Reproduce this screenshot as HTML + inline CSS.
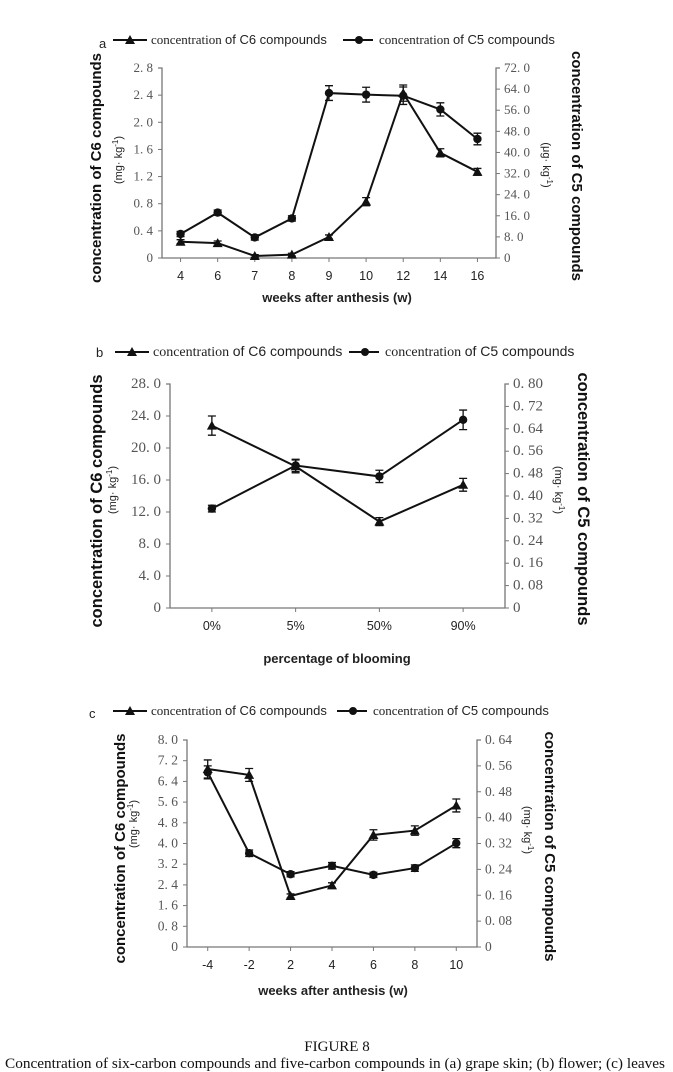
<!DOCTYPE html>
<html><head><meta charset="utf-8">
<style>
body{margin:0;background:#fff;width:673px;height:1072px;overflow:hidden}
svg{display:block}
.tk{font-family:"Liberation Serif",serif;font-size:13px;fill:#555}
.xl{font-family:"Liberation Sans",sans-serif;font-size:12.5px;fill:#222}
.tt{font-family:"Liberation Sans",sans-serif;font-size:15px;font-weight:bold;fill:#111}
.xt{font-family:"Liberation Sans",sans-serif;font-size:13px;font-weight:bold;fill:#222}
.un{font-family:"Liberation Sans",sans-serif;font-size:11px;fill:#222}
.lg{font-family:"Liberation Serif",serif;font-size:13px;fill:#222}
.lgs{font-family:"Liberation Sans",sans-serif;fill:#222}
.cap{font-family:"Liberation Serif",serif;font-size:15px;fill:#111}
</style></head><body>
<svg id="fig" width="673" height="1072" xmlns="http://www.w3.org/2000/svg">
<text class="cap" x="337" y="1051" text-anchor="middle">FIGURE 8</text>
<text class="cap" x="5" y="1068" textLength="660" lengthAdjust="spacingAndGlyphs">Concentration of six-carbon compounds and five-carbon compounds in (a) grape skin; (b) flower; (c) leaves</text>
</svg>
<script>
// Panel a data
const catsA=["4","6","7","8","9","10","12","14","16"];
const c6A=[0.24,0.22,0.03,0.05,0.31,0.83,2.43,1.55,1.27];
const c5A=[9.1,17.2,7.8,15.0,62.5,61.9,61.5,56.3,45.1];
const c6ErrA=[0.03,0.03,0.02,0.02,0.03,0.06,0.12,0.06,0.05];
const c5ErrA=[1.0,1.0,1.0,1.0,2.8,2.8,3.3,2.5,2.2];
const leftTicksA=["0","0.4","0.8","1.2","1.6","2.0","2.4","2.8"];
const rightTicksA=["0","8.0","16.0","24.0","32.0","40.0","48.0","56.0","64.0","72.0"];
// Panel b data
const catsB=["0%","5%","50%","90%"];
const c6B=[22.8,17.7,10.8,15.4];
const c5B=[0.355,0.509,0.470,0.672];
const c6ErrB=[1.2,0.8,0.5,0.8];
const c5ErrB=[0.012,0.022,0.022,0.035];
const leftTicksB=["0","4.0","8.0","12.0","16.0","20.0","24.0","28.0"];
const rightTicksB=["0","0.08","0.16","0.24","0.32","0.40","0.48","0.56","0.64","0.72","0.80"];
// Panel c data
const catsC=["-4","-2","2","4","6","8","10"];
const c6C=[6.88,6.65,1.97,2.38,4.33,4.50,5.47];
const c5C=[0.54,0.29,0.225,0.251,0.223,0.244,0.321];
const c6ErrC=[0.35,0.25,0.08,0.1,0.2,0.18,0.25];
const c5ErrC=[0.02,0.01,0.008,0.01,0.008,0.01,0.014];
const leftTicksC=["0","0.8","1.6","2.4","3.2","4.0","4.8","5.6","6.4","7.2","8.0"];
const rightTicksC=["0","0.08","0.16","0.24","0.32","0.40","0.48","0.56","0.64"];

const NS="http://www.w3.org/2000/svg";
const svg=document.getElementById('fig');
function mk(t,a,p){const e=document.createElementNS(NS,t);for(const k in a)e.setAttribute(k,a[k]);(p||svg).appendChild(e);return e;}
function fmt(s){return s.replace('.', '. ');}

function panel(o){
  const g=mk('g',{});
  
  
  const lMax=parseFloat(o.lt[o.lt.length-1]), rMax=parseFloat(o.rt[o.rt.length-1]);
  const yL=v=>o.y0-(v/lMax)*(o.y0-o.y1);
  const yR=v=>o.y0-(v/rMax)*(o.y0-o.y1);
  const w=(o.x1-o.x0)/o.cats.length;
  const xC=i=>o.x0+(i+0.5)*w;
  const ax=mk('path',{d:`M${o.x0-4} ${o.y1}H${o.x0}V${o.y0}H${o.x1}V${o.y1}H${o.x1+4}`,fill:'none',stroke:'#777','stroke-width':1.3},g);
  
  
  o.lt.forEach((t,i)=>{const v=parseFloat(t);const y=yL(v);
    mk('line',{x1:o.x0-4,x2:o.x0,y1:y,y2:y,stroke:'#777'},g);
    const e=mk('text',{class:'tk',x:o.x0-9,y:y+4,'text-anchor':'end',style:`font-size:${o.tkfs}px`},g);e.textContent=fmt(t);
    
    });
  o.rt.forEach((t,i)=>{const v=parseFloat(t);const y=yR(v);
    mk('line',{x1:o.x1,x2:o.x1+4,y1:y,y2:y,stroke:'#777'},g);
    const e=mk('text',{class:'tk',x:o.x1+8,y:y+4,style:`font-size:${o.tkfs}px`},g);e.textContent=fmt(t);
    
    });
  o.cats.forEach((c,i)=>{const x=xC(i);
    mk('line',{x1:x,x2:x,y1:o.y0,y2:o.y0+4,stroke:'#777'},g);
    const e=mk('text',{class:'xl',x:x,y:o.y0+22,'text-anchor':'middle'},g);e.textContent=c;
    
    });
  function series(vals,errs,sc,shape,name){
    const pts=vals.map((v,i)=>[xC(i),sc(v)]);
    const l=mk('polyline',{points:pts.map(p=>p.join(',')).join(' '),fill:'none',stroke:'#111','stroke-width':2},g);
    
    
    vals.forEach((v,i)=>{const x=xC(i),y=sc(v),ya=sc(v+errs[i]),yb=sc(v-errs[i]);
      mk('path',{d:`M${x} ${ya}V${yb}M${x-4} ${ya}H${x+4}M${x-4} ${yb}H${x+4}`,stroke:'#111','stroke-width':1.3,fill:'none'},g);
      let m;
      if(shape==='tri') m=mk('polygon',{points:`${x},${y-5} ${x-5},${y+4} ${x+5},${y+4}`,fill:'#111'},g);
      else m=mk('circle',{cx:x,cy:y,r:4.2,fill:'#111'},g);
      
      });
  }
  series(o.c6,o.e6,yL,'tri','c6-series');
  series(o.c5,o.e5,yR,'dot','c5-series');
  const mid=(o.y0+o.y1)/2;
  let e=mk('text',{class:'tt',transform:`translate(${o.ltx},${mid+5}) rotate(-90)`,'text-anchor':'middle',style:`font-size:${o.ttfs}px`},g);
  e.textContent='concentration of C6 compounds';
  
  
  e=mk('text',{class:'un',transform:`translate(${o.lux},${o.luy}) rotate(-90)`,'text-anchor':'middle'},g);
  e.innerHTML='(mg· kg<tspan dy="-4" font-size="8">-1</tspan><tspan dy="4">)</tspan>';
  
  
  e=mk('text',{class:'tt',transform:`translate(${o.rtx},${mid+3}) rotate(90)`,'text-anchor':'middle',style:`font-size:${o.ttfs}px`},g);
  e.textContent='concentration of C5 compounds';
  
  
  e=mk('text',{class:'un',transform:`translate(${o.rux},${o.ruy}) rotate(90)`,'text-anchor':'middle'},g);
  e.innerHTML=o.ru+' kg<tspan dy="-4" font-size="8">-1</tspan><tspan dy="4">)</tspan>';
  
  
  e=mk('text',{class:'xt',x:o.xtx,y:o.xty,'text-anchor':'middle'},g);
  e.textContent=o.xt;
  
  
  e=mk('text',{class:'lgs',x:o.px,y:o.py,style:'font-size:13px'},g);e.textContent=o.id;
  
  
  const lg=mk('g',{},g);
  
  
  const L=o.lg;
  mk('line',{x1:L[0],x2:L[0]+34,y1:L[2]-4,y2:L[2]-4,stroke:'#111','stroke-width':2},lg);
  const cx=L[0]+17,cy=L[2]-4;
  mk('polygon',{points:`${cx},${cy-5} ${cx-5},${cy+4} ${cx+5},${cy+4}`,fill:'#111'},lg);
  e=mk('text',{class:'lg',x:L[0]+38,y:L[2],style:`font-size:${o.lgfs}px`},lg);
  e.innerHTML='concentration <tspan class="lgs">of C6 compounds</tspan>';
  
  
  mk('line',{x1:L[1],x2:L[1]+30,y1:L[2]-4,y2:L[2]-4,stroke:'#111','stroke-width':2},lg);
  mk('circle',{cx:L[1]+16,cy:L[2]-4,r:4,fill:'#111'},lg);
  e=mk('text',{class:'lg',x:L[1]+36,y:L[2],style:`font-size:${o.lgfs}px`},lg);
  e.innerHTML='concentration <tspan class="lgs">of C5 compounds</tspan>';
  
  
}

panel({id:'a',cats:catsA,c6:c6A,c5:c5A,e6:c6ErrA,e5:c5ErrA,lt:leftTicksA,rt:rightTicksA,
  x0:162,x1:496,y0:258,y1:68,ltx:101,lux:122,luy:160,rtx:572,rux:543,ruy:165,ru:'(μg·',
  tkfs:13,ttfs:15,lgfs:13,
  xt:'weeks after anthesis (w)',xtx:337,xty:302,px:99,py:48,lg:[113,343,44]});
panel({id:'b',cats:catsB,c6:c6B,c5:c5B,e6:c6ErrB,e5:c5ErrB,lt:leftTicksB,rt:rightTicksB,
  x0:170,x1:505,y0:608,y1:384,ltx:102,lux:116,luy:490,rtx:578,rux:555,ruy:490,ru:'(mg·',
  tkfs:15,ttfs:16.5,lgfs:14,
  xt:'percentage of blooming',xtx:337,xty:663,px:96,py:357,lg:[115,349,356]});
panel({id:'c',cats:catsC,c6:c6C,c5:c5C,e6:c6ErrC,e5:c5ErrC,lt:leftTicksC,rt:rightTicksC,
  x0:187,x1:477,y0:947,y1:740,ltx:125,lux:137,luy:824,rtx:545,rux:524,ruy:830,ru:'(mg·',
  tkfs:13.5,ttfs:15,lgfs:13,
  xt:'weeks  after anthesis (w)',xtx:333,xty:995,px:89,py:718,lg:[113,337,715]});
</script>
</body></html>
